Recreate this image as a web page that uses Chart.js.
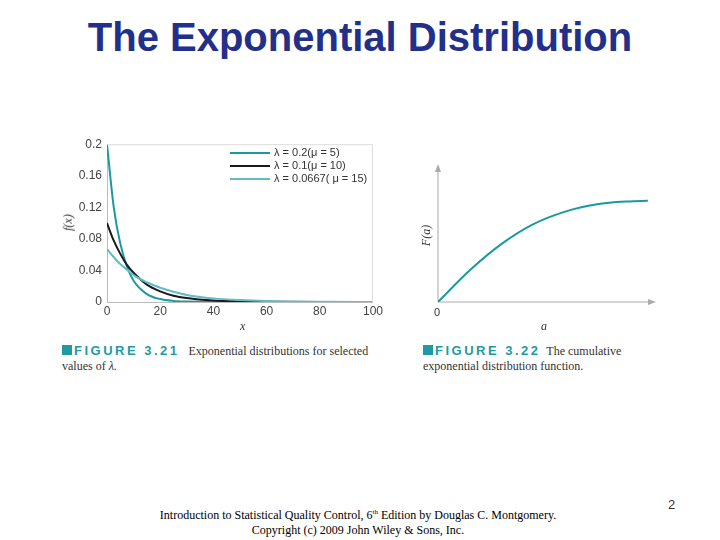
<!DOCTYPE html>
<html><head><meta charset="utf-8">
<script src="https://cdn.jsdelivr.net/npm/chart.js@4"></script>
<style>
body{margin:0;width:720px;height:540px;background:#fff;position:relative;overflow:hidden;font-family:"Liberation Sans",Arial,sans-serif}
.abs{position:absolute}
#title{left:0;width:720px;top:15px;text-align:center;font-size:40px;font-weight:bold;color:#23308a}
.cap{font-family:"Liberation Serif",serif;font-size:12px;color:#333;line-height:15px}
.fig{font-family:"Liberation Sans",sans-serif;color:#1f9aa3;font-weight:bold;letter-spacing:2.5px;font-size:13px}
.sq{display:inline-block;width:10px;height:10px;background:#1f9aa3;margin-right:2px}
.leg{font-size:11px;color:#333;line-height:13px}
.sw{display:inline-block;width:40px;height:2px;vertical-align:middle;margin-right:4px}
.foot{font-family:"Liberation Serif",serif;font-size:12px;color:#000;text-align:center}
.it{font-family:"Liberation Serif",serif;font-style:italic;font-size:12px;color:#333}
</style></head><body>
<div id="title" class="abs">The Exponential Distribution</div>
<div class="abs" style="left:50px;top:132px;width:335px;height:190px"><canvas id="c1"></canvas></div>
<div class="abs" style="left:400px;top:160px;width:260px;height:160px"><canvas id="c2"></canvas></div>
<div class="abs leg" style="left:230px;top:146px">
<div><span class="sw" style="background:#1a9aa0"></span>λ = 0.2(μ = 5)</div>
<div><span class="sw" style="background:#1a1a1a"></span>λ = 0.1(μ = 10)</div>
<div><span class="sw" style="background:#62bcc5"></span>λ = 0.0667( μ = 15)</div>
</div>
<div class="abs it" style="left:60px;top:215px;transform:rotate(-90deg)">f(x)</div>
<div class="abs it" style="left:240px;top:319px">x</div>
<div class="abs it" style="left:416px;top:228px;transform:rotate(-90deg)">F(a)</div>
<div class="abs it" style="left:541px;top:319px">a</div>
<div class="abs" style="left:434px;top:306px;font-size:11px;color:#333">0</div>
<div class="abs cap" style="left:62px;top:343px;width:340px"><span class="sq"></span><span class="fig">FIGURE 3.21</span>&nbsp;&nbsp; Exponential distributions for selected<br>values of <i>λ</i>.</div>
<div class="abs cap" style="left:423px;top:343px;width:240px"><span class="sq"></span><span class="fig">FIGURE 3.22</span>&nbsp; The cumulative<br>exponential distribution function.</div>
<div class="abs foot" style="left:130px;width:456px;top:508px">Introduction to Statistical Quality Control, 6<sup style="font-size:7px">th</sup> Edition by Douglas C. Montgomery.<br>Copyright (c) 2009 John Wiley &amp; Sons, Inc.</div>
<div class="abs" style="left:668px;top:497px;font-size:13px;color:#333">2</div>
<script>
const xs = [0, 2.5, 5, 7.5, 10, 15, 20, 25, 30, 40, 50, 60, 80, 100];
const lam02 = [0.2, 0.121, 0.074, 0.045, 0.027, 0.010, 0.0037, 0.0013, 0.0005, 0, 0, 0, 0, 0];
const lam01 = [0.1, 0.078, 0.061, 0.047, 0.037, 0.022, 0.0135, 0.008, 0.005, 0.0018, 0.0007, 0.0002, 0, 0];
const lam0667 = [0.067, 0.057, 0.048, 0.041, 0.034, 0.025, 0.018, 0.013, 0.009, 0.0046, 0.0024, 0.0012, 0.0003, 0.0001];
const xTicks = [0, 20, 40, 60, 80, 100];
const yTicks = [0, 0.04, 0.08, 0.12, 0.16, 0.2];
const aVals = [0, 1.5, 3, 4.5, 6, 7.5, 9, 9.9];
const cdfVals = [0, 0.24, 0.44, 0.59, 0.685, 0.74, 0.762, 0.767];

const pts = (x, y) => x.map((v, i) => ({ x: v, y: y[i] }));
const tickFont = { family: 'Liberation Sans', size: 12 };

new Chart(document.getElementById('c1'), {
    type: 'line',
    data: {
        datasets: [
            { data: pts(xs, lam0667), borderColor: '#62bcc5', borderWidth: 2, pointRadius: 0, cubicInterpolationMode: 'monotone' },
            { data: pts(xs, lam01), borderColor: '#1a1a1a', borderWidth: 2, pointRadius: 0, cubicInterpolationMode: 'monotone' },
            { data: pts(xs, lam02), borderColor: '#1a9aa0', borderWidth: 2, pointRadius: 0, cubicInterpolationMode: 'monotone' }
        ]
    },
    options: {
        responsive: true, maintainAspectRatio: false, animation: false,
        layout: { padding: { top: 10, right: 8 } },
        plugins: { legend: { display: false }, tooltip: { enabled: false } },
        scales: {
            x: {
                type: 'linear', min: 0, max: 100,
                afterBuildTicks: a => { a.ticks = xTicks.map(v => ({ value: v })); },
                afterFit: a => { a.height = 20; },
                grid: { display: false, drawTicks: false }, border: { color: '#bbb' },
                ticks: { color: '#444', font: tickFont, padding: 2, maxRotation: 0 }
            },
            y: {
                min: 0, max: 0.2,
                afterBuildTicks: a => { a.ticks = yTicks.map(v => ({ value: v })); },
                afterFit: a => { a.width = 57; },
                grid: { display: false, drawTicks: false }, border: { color: '#bbb' },
                ticks: { color: '#444', font: tickFont, padding: 5, callback: v => String(+v.toFixed(2)) }
            }
        }
    },
    plugins: [{
        id: 'frame',
        afterDraw: c => {
            const { ctx, chartArea: a } = c;
            ctx.save(); ctx.strokeStyle = '#ddd'; ctx.lineWidth = 1;
            ctx.beginPath(); ctx.moveTo(a.left, a.top + 0.5); ctx.lineTo(a.right - 0.5, a.top + 0.5); ctx.lineTo(a.right - 0.5, a.bottom); ctx.stroke();
            ctx.restore();
        }
    }]
});

new Chart(document.getElementById('c2'), {
    type: 'line',
    data: { datasets: [{ data: pts(aVals, cdfVals), borderColor: '#1a9aa0', borderWidth: 2, pointRadius: 0, cubicInterpolationMode: 'monotone' }] },
    options: {
        responsive: true, maintainAspectRatio: false, animation: false,
        layout: { padding: { top: 10, right: 10, bottom: 0, left: 0 } },
        plugins: { legend: { display: false }, tooltip: { enabled: false } },
        scales: {
            x: { type: 'linear', min: 0, max: 10, ticks: { display: false }, grid: { display: false }, border: { display: false },
                 afterFit: a => { a.height = 18; } },
            y: { min: 0, max: 1, ticks: { display: false }, grid: { display: false }, border: { display: false },
                 afterFit: a => { a.width = 38; } }
        }
    },
    plugins: [{
        id: 'arrows',
        beforeDatasetsDraw: c => {
            const { ctx, chartArea: a } = c;
            ctx.save(); ctx.strokeStyle = '#aaa'; ctx.fillStyle = '#aaa'; ctx.lineWidth = 1;
            ctx.beginPath(); ctx.moveTo(a.left, a.bottom); ctx.lineTo(a.left, a.top); ctx.moveTo(a.left, a.bottom); ctx.lineTo(a.right, a.bottom); ctx.stroke();
            ctx.beginPath(); ctx.moveTo(a.left, a.top - 6); ctx.lineTo(a.left - 3, a.top + 2); ctx.lineTo(a.left + 3, a.top + 2); ctx.fill();
            ctx.beginPath(); ctx.moveTo(a.right + 6, a.bottom); ctx.lineTo(a.right - 2, a.bottom - 3); ctx.lineTo(a.right - 2, a.bottom + 3); ctx.fill();
            ctx.restore();
        }
    }]
});
</script>
</body></html>
